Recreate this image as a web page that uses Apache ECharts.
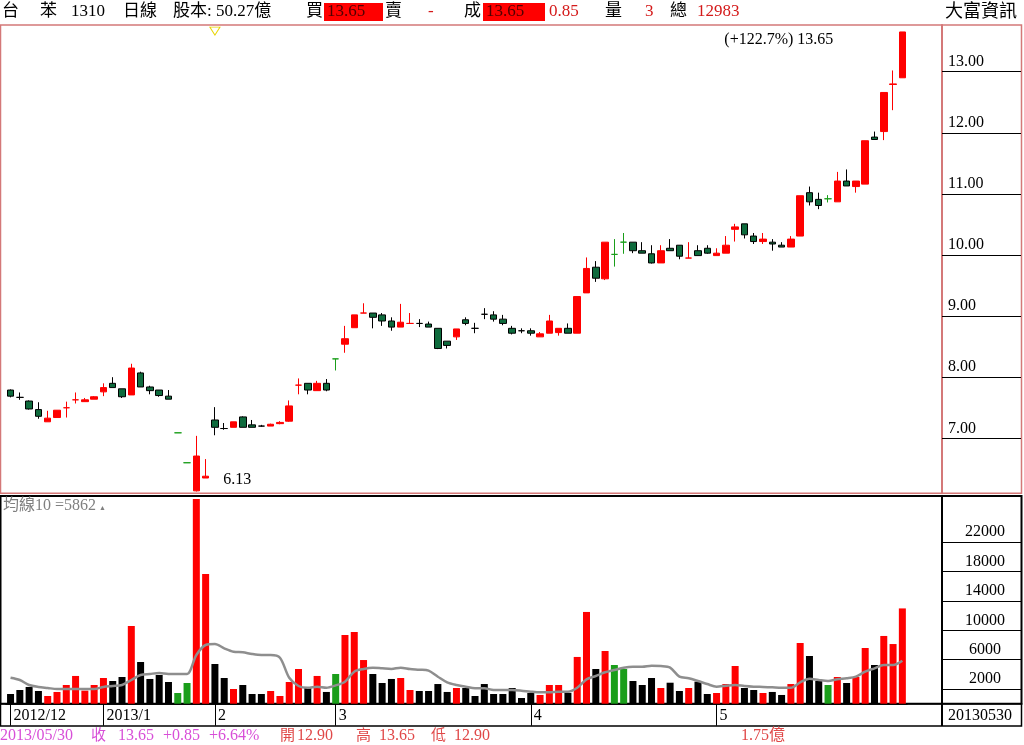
<!DOCTYPE html>
<html><head><meta charset="utf-8">
<script src="https://cdn.jsdelivr.net/npm/echarts@6/dist/echarts.min.js"></script>
<style>html,body{margin:0;padding:0;background:#fff;overflow:hidden}#c{width:1024px;height:745px}</style>
</head><body><div id="c"></div><script>
// ---- data ----
const openP  = [7.79,7.67,7.61,7.47,7.27,7.34,7.50,7.63,7.60,7.64,7.76,7.90,7.81,7.71,8.07,7.84,7.79,7.69,7.09,6.60,
  6.14,6.35,7.30,7.16,7.18,7.35,7.22,7.20,7.20,7.24,7.28,7.87,7.90,7.78,7.90,8.30,8.54,8.81,9.05,9.05,
  9.02,8.92,8.82,8.88,8.88,8.87,8.80,8.59,8.66,8.94,8.80,9.03,9.02,8.95,8.80,8.76,8.76,8.66,8.72,8.73,
  8.80,8.72,9.38,9.80,9.61,10.01,10.21,10.21,10.07,10.02,9.87,10.11,10.16,9.95,10.07,10.11,9.99,10.03,10.42,10.51,
  10.31,10.22,10.21,10.16,10.13,10.31,11.02,10.91,10.92,10.87,11.21,11.12,11.16,11.93,12.02,12.79,12.90];
const closeP = [7.69,7.67,7.48,7.36,7.33,7.46,7.50,7.63,7.63,7.68,7.83,7.83,7.68,8.15,7.84,7.78,7.70,7.64,7.09,6.60,
  6.71,6.38,7.18,7.16,7.27,7.18,7.18,7.20,7.23,7.26,7.53,7.87,7.79,7.90,7.79,8.30,8.63,9.02,9.05,8.98,
  8.92,8.82,8.90,8.88,8.88,8.82,8.47,8.52,8.79,8.88,8.80,9.03,8.95,8.88,8.72,8.76,8.72,8.71,8.92,8.80,
  8.72,9.32,9.78,9.62,10.21,10.01,10.21,10.07,10.03,9.87,10.07,10.07,9.98,9.95,9.99,10.03,10.03,10.16,10.46,10.33,
  10.22,10.26,10.18,10.13,10.26,10.97,10.87,10.81,10.92,11.21,11.13,11.21,11.87,11.89,12.66,12.80,13.65];
const lowP   = [7.67,7.63,7.47,7.32,7.27,7.34,7.34,7.57,7.60,7.64,7.69,7.83,7.66,7.71,7.84,7.72,7.68,7.64,7.09,6.60,
  6.13,6.35,7.05,7.14,7.18,7.18,7.18,7.19,7.20,7.23,7.27,7.72,7.72,7.78,7.77,8.11,8.40,8.81,9.05,8.80,
  8.84,8.76,8.82,8.88,8.82,8.82,8.46,8.47,8.61,8.85,8.72,8.95,8.91,8.85,8.70,8.72,8.68,8.66,8.72,8.68,
  8.72,8.72,9.38,9.56,9.59,9.81,10.02,10.03,10.03,9.86,9.87,10.07,9.93,9.95,9.99,10.02,9.99,10.03,10.22,10.27,
  10.18,10.18,10.07,10.13,10.13,10.31,10.81,10.75,10.86,10.87,11.13,11.02,11.16,11.89,11.88,12.37,12.90];
const highP  = [7.80,7.75,7.62,7.59,7.45,7.46,7.60,7.75,7.66,7.69,7.90,8.00,7.81,8.22,8.09,7.86,7.79,7.79,7.09,6.60,
  7.04,6.66,7.51,7.25,7.27,7.36,7.30,7.22,7.24,7.28,7.62,7.98,7.90,7.94,7.97,8.30,8.84,9.02,9.21,9.05,
  9.05,8.98,9.20,9.05,8.95,8.91,8.80,8.59,8.79,8.98,8.89,9.13,9.08,9.02,8.84,8.80,8.80,8.74,9.02,8.80,
  8.88,9.32,9.96,9.90,10.21,10.26,10.36,10.21,10.21,10.16,10.16,10.26,10.16,10.21,10.16,10.16,10.11,10.31,10.51,10.51,
  10.36,10.36,10.26,10.21,10.31,10.97,11.12,11.02,10.98,11.36,11.40,11.21,11.87,12.02,12.66,13.02,13.65];
const volumes = [1320,1870,2280,1730,1050,1600,2550,3780,1780,2550,3500,3090,3640,10590,5680,3370,3910,2960,1460,2820,
  27900,17680,5410,3500,2000,2550,1320,1320,1730,1050,2960,4730,2140,3780,1600,4050,9360,9770,5950,4050,
  2820,3370,3500,1870,1730,1730,2680,1600,2140,2140,1050,2680,1320,1320,2140,780,1460,1190,2550,2550,
  1460,6370,12500,4730,7180,5270,4730,3090,2550,3500,2140,2860,1730,2140,3000,1320,1460,2680,5140,2140,
  1870,1460,1600,1190,2680,8270,6500,3090,2550,3640,2820,3640,7590,5270,9230,8130,12983];
const volMA10 = [3540,3230,2550,2280,2140,2000,2000,2000,2000,2000,2280,2410,2550,3230,3910,4050,4180,4050,4050,4050,
  6640,8000,8130,7550,7090,7000,6770,6640,6640,6270,3540,2410,2180,2320,2180,2500,3000,4360,4730,4910,
  4820,4730,4910,4730,4630,4500,3680,2910,2550,2320,2100,2100,1870,1870,1870,1780,1640,1550,1550,1640,
  1640,2180,3320,3780,4280,4590,4910,5040,5040,5180,5130,4910,3680,3460,3090,2680,2320,2450,2550,2410,
  2320,2280,2230,2180,2180,2910,3410,3230,3090,3320,3460,3680,4360,4820,5270,5270,5862];
// day tone from the source software: r = up, k = down, g = flat/limit
const tone = ('kkkk'+'rrrrrrr'+'kk'+'r'+'kkkk'+'gg'+'rr'+'kk'+'r'+'kkk'+'rrrr'+'k'+'r'+'k'+'g'+'rrr'+'kkk'+'rr'+'kkkk'+'r'+
  'kkkkkkkk'+'rrr'+'k'+'rr'+'k'+'r'+'gg'+'kkk'+'r'+'kk'+'r'+'kk'+'rrr'+'kk'+'r'+'kk'+'rr'+'kk'+'g'+'r'+'k'+'rr'+'k'+'rrr').split('');
const monthTicks = {0:'2012/12', 10:'2013/1', 22:'2', 35:'3', 56:'4', 76:'5'};
const eventDays = [22];
const priceTicks = [7,8,9,10,11,12,13];
const volTicks = [2000,6000,10000,14000,18000,22000];
const priceMin = 6.10, priceMax = 13.764, volMax = 28300;
const header = {name1:'台', name2:'苯', code:'1310', period:'日線', capital:'股本: 50.27億',
  bid:'13.65', ask:'-', deal:'13.65', chg:'0.85', lastVol:'3', source:'大富資訊'};
const lastDate = '2013/05/30', lastDateCompact = '20130530', amount = '1.75億';

// ---- build ----
const F = "'Liberation Serif','Noto Sans CJK TC',serif";
const RED = '#ff0000', DKGREEN = '#0e6b3d', GREEN = '#1a9e1a';
const toneColor = {r: RED, k: '#000000', g: GREEN};
const n = closeP.length;
const cats = Array.from({length: n}, (_, i) => String(i));
const candles = openP.map((o, i) => {
  const c = closeP[i];
  const item = {value: [o, c, lowP[i], highP[i]]};
  if (o === c) {
    const col = toneColor[tone[i]];
    item.itemStyle = {color: col, color0: col, borderColor: col, borderColor0: col, borderColorDoji: col};
  }
  return item;
});
const volBars = volumes.map((v, i) => ({value: v, itemStyle: {color: toneColor[tone[i]]}}));
let hiIdx = 0, loIdx = 0;
highP.forEach((h, i) => { if (h > highP[hiIdx]) hiIdx = i; });
lowP.forEach((l, i) => { if (l < lowP[loIdx]) loIdx = i; });
const hiVal = highP[hiIdx], loVal = lowP[loIdx];
const pct = ((hiVal / loVal - 1) * 100).toFixed(1);
const lastC = closeP[n-1], prevC = closeP[n-2];
const diff = (lastC - prevC).toFixed(2), diffPct = ((lastC - prevC) / prevC * 100).toFixed(2);
const isMonth = (i) => monthTicks[i] !== undefined;

function T(x, y, text, fill, size, extra) {
  return Object.assign({type: 'text', x: x, y: y, silent: true,
    style: {text: text, fill: fill, font: (size || 16) + 'px ' + F, verticalAlign: 'middle', align: 'left'}}, extra || {});
}
function R(x, y, w, h, stroke, lw, fill) {
  return {type: 'rect', silent: true, shape: {x: x, y: y, width: w, height: h},
    style: {fill: fill || 'none', stroke: stroke || 'none', lineWidth: lw || 1}};
}
function L(x1, y1, x2, y2, stroke, lw) {
  return {type: 'line', silent: true, shape: {x1: x1, y1: y1, x2: x2, y2: y2}, style: {stroke: stroke, lineWidth: lw || 1}};
}
const PINK = '#d84fd8', SALMON = '#e04848', HRED = '#d41a1a';
const graphic = [
  // frames
  R(0.5, 25, 1021, 468.3, '#d47878', 1.5),
  R(0.5, 496, 1021, 207.7, '#000', 2),
  R(0.5, 703.7, 1021, 22.3, '#000', 1.5),
  L(942, 703.7, 942, 726, '#000', 2),
  // header
  T(2, 12, header.name1, '#000', 17), T(40, 12, header.name2, '#000', 17), T(71, 12, header.code, '#000', 17),
  T(123, 12, header.period, '#000', 17), T(173, 12, header.capital, '#000', 17),
  T(306, 12, '買', '#000', 17), R(324, 3, 59, 18, null, 1, RED), T(327, 12, header.bid, '#500000', 17),
  T(385, 12, '賣', '#000', 17), T(428, 12, header.ask, HRED, 17),
  T(464, 12, '成', '#000', 17), R(483, 3, 62, 18, null, 1, RED), T(486, 12, header.deal, '#500000', 17),
  T(549, 12, header.chg, HRED, 17),
  T(605, 12, '量', '#000', 17), T(645, 12, header.lastVol, HRED, 17),
  T(670, 12, '總', '#000', 17), T(697, 12, String(volumes[n-1]), HRED, 17),
  T(945, 12, header.source, '#000', 18),
  // volume panel title
  T(3, 506, '均線10 =' + volMA10[n-1], '#808080', 16), T(99, 508, '▲', '#808080', 7),
  // bottom
  T(948, 716, lastDateCompact, '#000', 16),
  T(0, 736, lastDate, PINK, 16), T(91, 736, '收', PINK, 15), T(118, 736, lastC.toFixed(2), PINK, 16),
  T(163, 736, '+' + diff, PINK, 16), T(209, 736, '+' + diffPct + '%', PINK, 16),
  T(280, 736, '開', SALMON, 15), T(297, 736, openP[n-1].toFixed(2), SALMON, 16),
  T(356, 736, '高', SALMON, 15), T(379, 736, highP[n-1].toFixed(2), SALMON, 16),
  T(431, 736, '低', SALMON, 15), T(454, 736, lowP[n-1].toFixed(2), SALMON, 16),
  T(741, 736, amount, SALMON, 16)
];

const chart = echarts.init(document.getElementById('c'), null, {renderer: 'canvas'});
chart.setOption({
  animation: false,
  backgroundColor: '#fff',
  textStyle: {fontFamily: F},
  grid: [
    {left: 5.9, right: 117, top: 25, height: 468.3},
    {left: 5.9, right: 117, top: 496, height: 207.7}
  ],
  xAxis: [
    {type: 'category', gridIndex: 0, data: cats, boundaryGap: true,
      axisLine: {show: false}, axisTick: {show: false}, axisLabel: {show: false}, splitLine: {show: false}},
    {type: 'category', gridIndex: 1, data: cats, boundaryGap: true,
      axisLine: {show: true, lineStyle: {color: '#000', width: 1.5}},
      axisTick: {show: true, interval: isMonth, alignWithLabel: true, length: 22, lineStyle: {color: '#000', width: 1}},
      axisLabel: {show: true, interval: isMonth, formatter: (v, i) => monthTicks[i] || '', align: 'left',
        margin: 4, padding: [0, 0, 0, 3], color: '#000', fontSize: 16, fontFamily: F},
      splitLine: {show: false}}
  ],
  yAxis: [
    {type: 'value', gridIndex: 0, position: 'right', offset: 35, min: priceMin, max: priceMax,
      splitLine: {show: false},
      axisLine: {show: true, lineStyle: {color: '#d47878', width: 2}},
      axisTick: {show: true, customValues: priceTicks, length: 79, lineStyle: {color: '#000', width: 1}},
      axisLabel: {show: true, customValues: priceTicks, formatter: v => v.toFixed(2), margin: 6, align: 'left',
        verticalAlign: 'bottom', padding: [0, 0, 2, 0], color: '#000', fontSize: 16, fontFamily: F}},
    {type: 'value', gridIndex: 1, position: 'right', offset: 35, min: 0, max: volMax,
      splitLine: {show: false},
      axisLine: {show: true, lineStyle: {color: '#000', width: 2}},
      axisTick: {show: true, customValues: volTicks, length: 79, lineStyle: {color: '#000', width: 1}},
      axisLabel: {show: true, customValues: volTicks, formatter: v => String(v), margin: 43, align: 'center',
        verticalAlign: 'bottom', padding: [0, 0, 2, 0], color: '#000', fontSize: 16, fontFamily: F}}
  ],
  series: [
    {type: 'candlestick', xAxisIndex: 0, yAxisIndex: 0, data: candles, barWidth: 7,
      itemStyle: {color: RED, color0: DKGREEN, borderColor: RED, borderColor0: '#000', borderWidth: 1},
      markPoint: {symbol: 'circle', symbolSize: 0, silent: true, animation: false,
        data: [
          {coord: [hiIdx, hiVal], label: {show: true, formatter: '(+' + pct + '%) ' + hiVal.toFixed(2),
            position: [-69, 8], align: 'right', verticalAlign: 'middle', color: '#000', fontSize: 16, fontFamily: F}},
          {coord: [loIdx, loVal], label: {show: true, formatter: loVal.toFixed(2),
            position: [27, -12], align: 'left', verticalAlign: 'middle', color: '#000', fontSize: 16, fontFamily: F}}
        ].concat(eventDays.map(d => ({coord: [d, priceMax - 0.1], symbol: 'triangle', symbolRotate: 180,
          symbolSize: [10, 8], itemStyle: {color: '#fff', borderColor: '#e8d400', borderWidth: 1}, label: {show: false}})))
      }},
    {type: 'bar', xAxisIndex: 1, yAxisIndex: 1, data: volBars, barWidth: 7},
    {type: 'line', xAxisIndex: 1, yAxisIndex: 1, data: volMA10, smooth: 0.3, showSymbol: false,
      lineStyle: {color: '#8e8e8e', width: 2.5}, z: 5}
  ],
  graphic: graphic
});
</script></body></html>
